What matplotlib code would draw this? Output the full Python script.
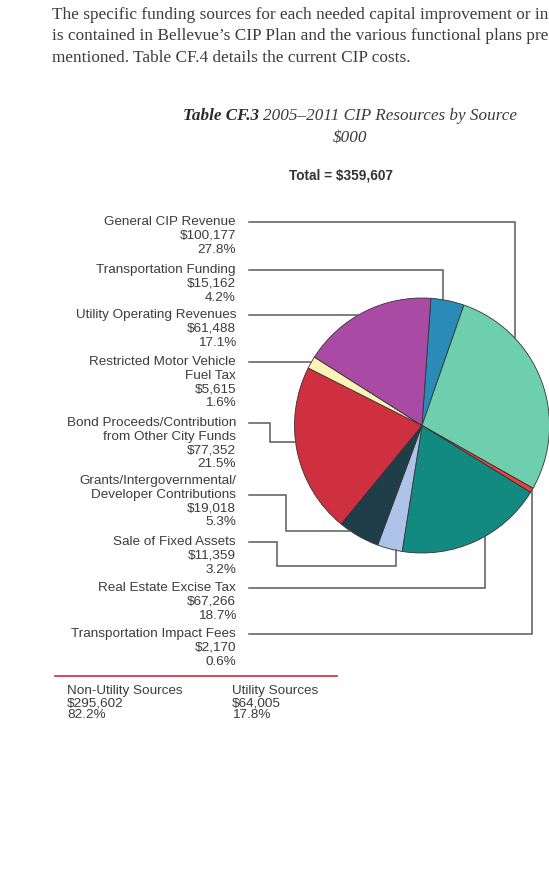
import numpy as np
import matplotlib
matplotlib.use("Agg")
import matplotlib.pyplot as plt

# Data ($000), in pie order clockwise from the top
slice_names = ["Transportation Funding", "General CIP Revenue", "Transportation Impact Fees",
               "Real Estate Excise Tax", "Sale of Fixed Assets", "Grants/Intergovernmental",
               "Bond Proceeds", "Restricted Motor Vehicle Fuel Tax", "Utility Operating Revenues"]
slice_values = [15162, 100177, 2170, 67266, 11359, 19018, 77352, 5615, 61488]
slice_colors = ["#2a8ab8", "#6dcfae", "#e8403a", "#138a80", "#aec3e8",
                "#1f3e4a", "#cf3040", "#fdf2b8", "#a94ba4"]

# Labels, top to bottom
label_texts = ["General CIP Revenue", "Transportation Funding", "Utility Operating Revenues",
               "Restricted Motor Vehicle\nFuel Tax", "Bond Proceeds/Contribution\nfrom Other City Funds",
               "Grants/Intergovernmental/\nDeveloper Contributions", "Sale of Fixed Assets",
               "Real Estate Excise Tax", "Transportation Impact Fees"]
label_amounts = ["$100,177", "$15,162", "$61,488", "$5,615", "$77,352",
                 "$19,018", "$11,359", "$67,266", "$2,170"]
label_pcts = ["27.8%", "4.2%", "17.1%", "1.6%", "21.5%", "5.3%", "3.2%", "18.7%", "0.6%"]

summary_names = ["Non-Utility Sources", "Utility Sources"]
summary_amounts = ["$295,602", "$64,005"]
summary_pcts = ["82.2%", "17.8%"]

W, H = 549, 893
fig = plt.figure(figsize=(W / 100, H / 100), dpi=100)
ax = fig.add_axes([0, 0, 1, 1])

cx, cy, R = 422, 425.5, 127.5
# y axis is inverted below, so counterclock=True draws visually clockwise
ax.pie(slice_values, colors=slice_colors, center=(cx, cy), radius=R,
       startangle=-86, counterclock=True,
       wedgeprops=dict(edgecolor="#333333", linewidth=0.6))
ax.set_xlim(0, W)
ax.set_ylim(H, 0)
ax.axis("off")

txt_col = "#3c3c3c"
serif = "Liberation Serif"
sans = "Liberation Sans"

# intro paragraph, cut at the page edge like the source
intro = ["The specific funding sources for each needed capital improvement or in",
         "is contained in Bellevue\u2019s CIP Plan and the various functional plans pre",
         "mentioned. Table CF.4 details the current CIP costs."]
for i, line in enumerate(intro):
    ax.text(52, 15 + i * 21.5, line, fontsize=12.4, family=serif, color=txt_col,
            va="center", ha="left")

# title: bold italic prefix + italic rest, centred together
renderer = fig.canvas.get_renderer()
t_bold = ax.text(0, 116, "Table CF.3 ", fontsize=12.3, family=serif, style="italic",
                 weight="bold", color="#2a2a2a", ha="left", va="center")
t_rest = ax.text(0, 116, "2005\u20132011 CIP Resources by Source", fontsize=12.3,
                 family=serif, style="italic", color=txt_col, ha="left", va="center")
wb = t_bold.get_window_extent(renderer).width
wr = t_rest.get_window_extent(renderer).width
x_start = 350 - (wb + wr) / 2
t_bold.set_x(x_start)
t_rest.set_x(x_start + wb)
ax.text(350, 138, "$000", fontsize=12.3, family=serif, style="italic", color=txt_col,
        ha="center", va="center")
ax.text(341, 176, "Total = $359,607", fontsize=9.8, family=sans, weight="bold",
        color="#333333", ha="center", va="center")

# labels
first_line_y = [222, 270, 315, 362, 423, 481, 542, 588, 634]
step = 13.8
for y0, name, amt, pct in zip(first_line_y, label_texts, label_amounts, label_pcts):
    lines = name.split("\n") + [amt, pct]
    for k, ln in enumerate(lines):
        ax.text(236, y0 + k * step, ln, fontsize=9.7, family=sans, color=txt_col,
                ha="right", va="center")

def edge_x(y):
    return cx - np.sqrt(R ** 2 - (y - cy) ** 2)

def edge_top(x):
    return cy - np.sqrt(R ** 2 - (x - cx) ** 2)

def edge_bot(x):
    return cy + np.sqrt(R ** 2 - (x - cx) ** 2)

x0 = 249
routes = [
    [(x0, 222), (515, 222), (515, edge_top(515))],
    [(x0, 270), (443, 270), (443, edge_top(443))],
    [(x0, 315), (edge_x(315), 315)],
    [(x0, 362), (edge_x(362), 362)],
    [(x0, 423), (270, 423), (270, 442), (edge_x(442), 442)],
    [(x0, 495), (286, 495), (286, 531), (edge_x(531), 531)],
    [(x0, 542), (277, 542), (277, 566), (396, 566), (396, edge_bot(396))],
    [(x0, 588), (485, 588), (485, edge_bot(485))],
    [(x0, 634), (532, 634), (532, edge_bot(532))],
]
for r in routes:
    xs, ys = zip(*r)
    ax.plot(xs, ys, color="#5a5a5a", linewidth=1.1, solid_joinstyle="miter")

ax.plot([55, 337], [676, 676], color="#d7263d", linewidth=1.2)

for xs_, nm, am, pc in zip([67, 232], summary_names, summary_amounts, summary_pcts):
    for k, ln in enumerate([nm, am, pc]):
        ax.text(xs_, 691 + k * 12, ln, fontsize=9.7, family=sans, color=txt_col,
                ha="left", va="center")

fig.savefig("out.png", dpi=100)
